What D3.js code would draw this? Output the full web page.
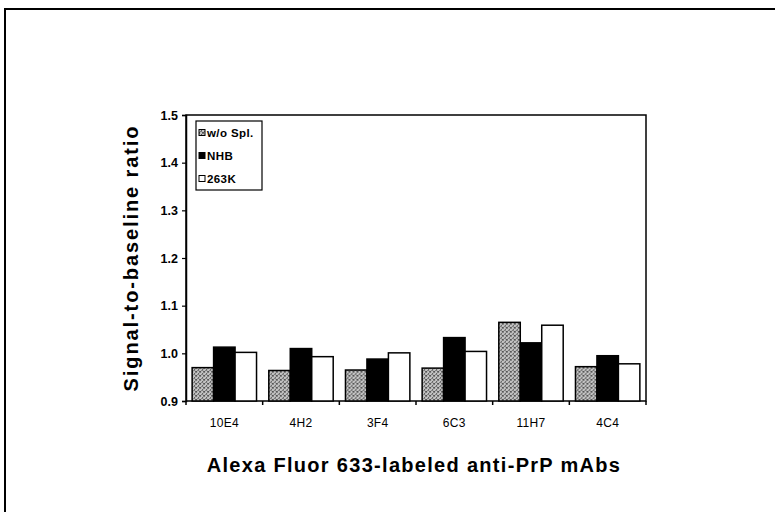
<!DOCTYPE html>
<html>
<head>
<meta charset="utf-8">
<script src="https://cdn.jsdelivr.net/npm/d3@7"></script>
<style>
  body { margin: 0; background: white; }
  svg { display: block; }
</style>
</head>
<body>
<svg></svg>
<script>
const w = 775;
const h = 512;

const categories = ["10E4", "4H2", "3F4", "6C3", "11H7", "4C4"];
const series = ["w/o Spl.", "NHB", "263K"];
const woSpl = [0.970, 0.964, 0.965, 0.969, 1.065, 0.972];
const nhb = [1.013, 1.010, 0.988, 1.033, 1.022, 0.995];
const k263 = [1.002, 0.993, 1.001, 1.004, 1.059, 0.978];
const yTicks = [0.9, 1.0, 1.1, 1.2, 1.3, 1.4, 1.5];

const values = [woSpl, nhb, k263];
const rows = categories.map((c, i) => ({
    cat: c,
    vals: series.map((s, j) => ({ key: s, value: values[j][i] }))
}));

const font = "Liberation Sans, Arial, sans-serif";

const svg = d3.select("svg")
    .attr("width", w)
    .attr("height", h);

// stippled grey fill like the scanned bars
const defs = svg.append("defs");
const pat = defs.append("pattern")
    .attr("id", "dots")
    .attr("width", 4)
    .attr("height", 4)
    .attr("patternUnits", "userSpaceOnUse");
pat.append("rect").attr("width", 4).attr("height", 4).attr("fill", "#c2c2c2");
[[0, 0], [2, 1], [1, 2], [3, 3], [3, 0], [0, 3], [2, 2]].forEach(([px, py], i) => {
    pat.append("rect")
        .attr("x", px).attr("y", py)
        .attr("width", 1).attr("height", 1)
        .attr("fill", i % 2 ? "#555" : "#7a7a7a");
});

const fills = { "w/o Spl.": "url(#dots)", "NHB": "#000", "263K": "#fff" };

// outer frame
svg.append("path")
    .attr("d", `M5,${h + 5} L5,9 L${w + 5},9`)
    .attr("fill", "none")
    .attr("stroke", "#000")
    .attr("stroke-width", 2);

const margin = { left: 186, top: 115, right: 646, bottom: 401 };

const x0 = d3.scaleBand()
    .domain(categories)
    .range([margin.left, margin.right])
    .paddingInner(0.16)
    .paddingOuter(0.08);

const x1 = d3.scaleBand()
    .domain(series)
    .range([0, x0.bandwidth()]);

const y = d3.scaleLinear()
    .domain([0.9, 1.5])
    .range([margin.bottom, margin.top]);

// plot frame
svg.append("rect")
    .attr("x", margin.left)
    .attr("y", margin.top)
    .attr("width", margin.right - margin.left)
    .attr("height", margin.bottom - margin.top)
    .attr("fill", "none")
    .attr("stroke", "#000")
    .attr("stroke-width", 1.5);

// bars
const groups = svg.append("g").selectAll("g")
    .data(rows)
    .join("g")
    .attr("transform", d => `translate(${x0(d.cat)},0)`);

groups.selectAll("rect")
    .data(d => d.vals)
    .join("rect")
    .attr("x", d => x1(d.key))
    .attr("y", d => y(d.value))
    .attr("width", x1.bandwidth())
    .attr("height", d => y(0.9) - y(d.value))
    .attr("fill", d => fills[d.key])
    .attr("stroke", "#000")
    .attr("stroke-width", 1.5);

// y axis
const yAxis = svg.append("g")
    .attr("transform", `translate(${margin.left},0)`)
    .call(d3.axisLeft(y).tickValues(yTicks).tickFormat(d3.format(".1f")).tickSize(4).tickPadding(4));
yAxis.select(".domain").attr("stroke-width", 1.5);
yAxis.selectAll(".tick line").attr("stroke-width", 1.2);
yAxis.selectAll("text")
    .attr("font-family", font)
    .attr("font-size", 12.5)
    .attr("font-weight", 600)
    .attr("fill", "#000");

// x axis: ticks between categories
const xTickPos = categories.map(c => x0(c) - x0.step() * x0.paddingInner() / 2)
    .concat([margin.right]);
svg.append("g").selectAll("line")
    .data(xTickPos)
    .join("line")
    .attr("x1", d => d)
    .attr("x2", d => d)
    .attr("y1", margin.bottom)
    .attr("y2", margin.bottom + 4)
    .attr("stroke", "#000")
    .attr("stroke-width", 1.5);

svg.append("g").selectAll("text")
    .data(categories)
    .join("text")
    .attr("x", d => x0(d) + x0.bandwidth() / 2)
    .attr("y", 427)
    .attr("text-anchor", "middle")
    .attr("font-family", font)
    .attr("font-size", 12)
    .attr("letter-spacing", 0.3)
    .text(d => d);

// axis titles
svg.append("text")
    .attr("transform", "translate(138,258) rotate(-90)")
    .attr("text-anchor", "middle")
    .attr("font-family", font)
    .attr("font-weight", "bold")
    .attr("font-size", 20)
    .attr("letter-spacing", 1.9)
    .text("Signal-to-baseline ratio");

svg.append("text")
    .attr("x", 414)
    .attr("y", 472)
    .attr("text-anchor", "middle")
    .attr("font-family", font)
    .attr("font-weight", "bold")
    .attr("font-size", 20)
    .attr("letter-spacing", 1.3)
    .text("Alexa Fluor 633-labeled anti-PrP mAbs");

// legend
const legend = svg.append("g");
legend.append("rect")
    .attr("x", 196)
    .attr("y", 121)
    .attr("width", 66)
    .attr("height", 69)
    .attr("fill", "#fff")
    .attr("stroke", "#000")
    .attr("stroke-width", 1.2);

const items = legend.selectAll("g")
    .data(series)
    .join("g")
    .attr("transform", (d, i) => `translate(199,${133 + i * 23})`);
items.append("rect")
    .attr("x", 0)
    .attr("y", -3.5)
    .attr("width", 6)
    .attr("height", 6)
    .attr("fill", d => fills[d])
    .attr("stroke", "#000")
    .attr("stroke-width", 1);
items.append("text")
    .attr("x", 8)
    .attr("y", 4)
    .attr("font-family", font)
    .attr("font-weight", "bold")
    .attr("font-size", 11.5)
    .attr("letter-spacing", 0.4)
    .text(d => d);
</script>
</body>
</html>
